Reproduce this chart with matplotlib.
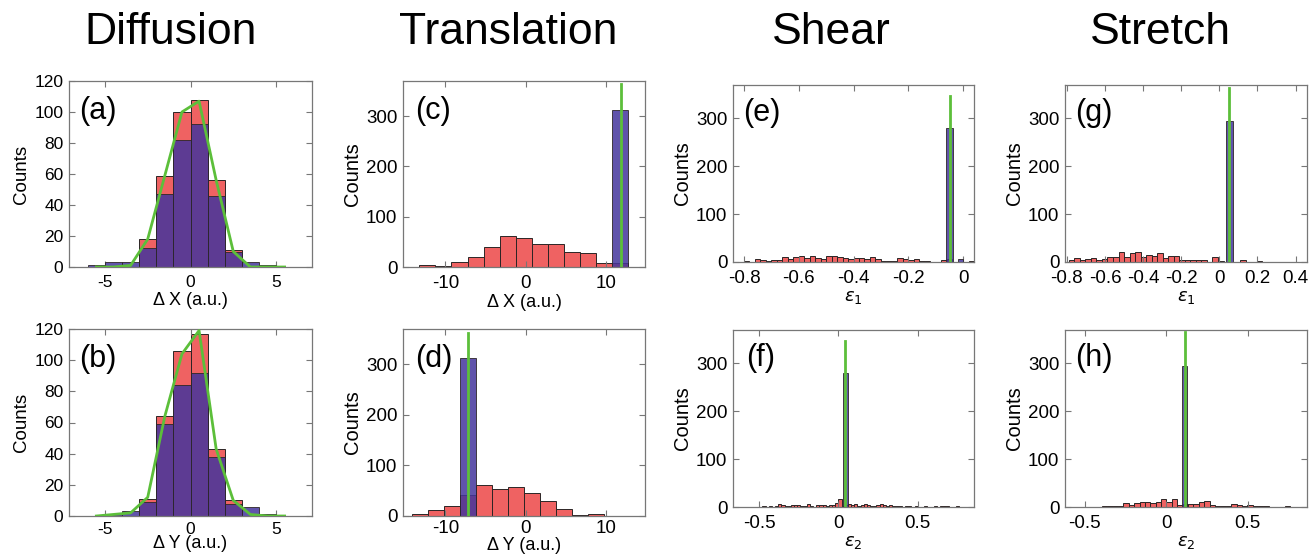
import numpy as np
import matplotlib
matplotlib.use("Agg")
import matplotlib.pyplot as plt

plt.rcParams['font.family'] = ['Liberation Sans', 'DejaVu Sans']
plt.rcParams['mathtext.fontset'] = 'dejavusans'

# ---- data ----
# (a) diffusion, delta X : unit bins starting at -6
dx_start, dx_width = -6.0, 1.0
dx_red = [0, 0, 0, 18, 59, 100, 108, 56, 11, 0, 0, 0]
dx_blue = [1, 3, 3, 12, 47, 82, 92, 46, 10, 3, 1, 0]
dx_green = [0, 0, 1, 18, 59, 100, 107, 56, 10, 0, 0, 0]

# (b) diffusion, delta Y
dy_start, dy_width = -6.0, 1.0
dy_red = [0, 1, 0, 11, 64, 106, 117, 43, 10, 0, 0, 0]
dy_blue = [0, 1, 3, 9, 59, 84, 92, 38, 8, 6, 1, 0]
dy_green = [0, 1, 2, 12, 64, 104, 119, 43, 10, 1, 0, 0]

# (c) translation, delta X
tx_start, tx_width = -13.25, 2.0
tx_red = [3, 1, 10, 20, 40, 62, 58, 46, 45, 30, 28, 8, 7]
tx_blue_left, tx_blue_width, tx_blue = [10.75], [2.0], [312]
tx_green_x, tx_green_top = 11.85, 364

# (d) translation, delta Y
ty_start, ty_width = -14.2, 2.0
ty_red = [3, 12, 20, 42, 62, 54, 58, 45, 30, 13, 1, 4]
ty_blue_left, ty_blue_width, ty_blue = [-8.2], [2.0], [312]
ty_green_x, ty_green_top = -7.18, 362

# (e) shear, eps1
se1_start, se1_width = -0.80, 0.02
se1_red = [3, 1, 6, 4, 3, 5, 4, 10, 7, 10, 12, 8, 13, 9, 7, 12, 12, 11, 9, 6, 9,
           8, 6, 10, 6, 2, 3, 3, 8, 6, 4, 7, 3, 2, 1, 1, 4, 6, 0, 0, 0, 3]
se1_blue_left, se1_blue_width, se1_blue = [-0.061, -0.02], [0.025, 0.02], [281, 6]
se1_green_x, se1_green_top = -0.047, 347

# (f) shear, eps2
se2_start, se2_width = -0.50, 0.02
se2_red = [1, 2, 1, 2, 1, 3, 6, 4, 2, 3, 5, 4, 5, 2, 3, 6, 2, 1, 4, 5, 4, 3,
           5, 4, 8, 16, 3, 5, 7, 4, 6, 3, 5, 6, 4, 3, 2, 4, 7, 5, 3, 4, 2, 3,
           2, 1, 3, 2, 1, 2, 1, 0, 2, 1, 0, 3, 1, 3, 2, 2, 0, 1, 2, 1, 0]
se2_blue_left, se2_blue_width, se2_blue = [0.029], [0.033], [281]
se2_green_x, se2_green_top = 0.044, 348

# (g) stretch, eps1
st1_start, st1_width = -0.79, 0.029
st1_red = [4, 8, 4, 7, 8, 5, 7, 11, 11, 21, 10, 19, 21, 11, 15, 12, 18, 9, 12, 12,
           5, 5, 5, 4, 4, 0, 11, 2, 0, 0, 0, 4, 0, 0, 2, 1, 0, 1, 1, 1, 0, 1, 0, 0]
st1_blue_left, st1_blue_width, st1_blue = [0.035], [0.035], [295]
st1_green_x, st1_green_top = 0.052, 364

# (h) stretch, eps2
st2_start, st2_width = -0.46, 0.033
st2_red = [1, 1, 2, 2, 3, 3, 8, 5, 8, 10, 11, 8, 11, 17, 10, 17, 5, 7, 7, 6,
           10, 12, 4, 3, 3, 2, 7, 5, 3, 4, 3, 2, 3, 1, 1, 1, 2, 1, 1, 1]
st2_blue_left, st2_blue_width, st2_blue = [0.095], [0.03], [295]
st2_green_x, st2_green_top = 0.115, 366

column_titles = ["Diffusion", "Translation", "Shear", "Stretch"]

RED = "#EF6262"
BLUE = "#44359C"
EDGE = "#2b2525"
GREEN = "#5CBF3A"
FRAME = "#777777"

fig = plt.figure(figsize=(13.09, 5.56), dpi=100)


def add_axes(px_left, px_top, px_right, px_bottom):
    W, H = 1309.0, 556.0
    return fig.add_axes([px_left / W, 1 - px_bottom / H,
                         (px_right - px_left) / W, (px_bottom - px_top) / H])


def bars(ax, start, width, red, blue_left=None, blue_width=None, blue=None):
    lefts = start + width * np.arange(len(red))
    ax.bar(lefts, red, width=width, align='edge', color=RED,
           edgecolor=EDGE, linewidth=0.7, zorder=1)
    if blue is not None:
        ax.bar(blue_left, blue, width=blue_width, align='edge', color=BLUE,
               alpha=0.85, edgecolor=EDGE, linewidth=0.7, zorder=2)


def style(ax, xlim, xticks, xticklabels, ylim, yticks, xlabel, tag,
          tagx=0.04, size=13.5, xpad=6, lpad=1):
    ax.set_xlim(xlim)
    ax.set_ylim(ylim)
    ax.set_xticks(xticks)
    ax.set_xticklabels(xticklabels)
    ax.set_yticks(yticks)
    ax.set_yticklabels([str(t) for t in yticks])
    ax.tick_params(direction='in', length=4, width=0.8, color=FRAME,
                   top=True, right=True, labelsize=size)
    ax.tick_params(axis='x', pad=xpad)
    ax.tick_params(axis='y', pad=4)
    for s in ax.spines.values():
        s.set_color(FRAME)
        s.set_linewidth(0.9)
    ax.set_ylabel("Counts", fontsize=size + 1, labelpad=3)
    ax.set_xlabel(xlabel, fontsize=13, labelpad=lpad)
    ax.text(tagx, 0.84, tag, transform=ax.transAxes, fontsize=22, va='center', ha='left')


# (a)
ax = add_axes(69, 81, 312, 267)
bars(ax, dx_start, dx_width, dx_red,
     dx_start + dx_width * np.arange(len(dx_blue)), dx_width, dx_blue)
ax.plot(dx_start + dx_width * (np.arange(len(dx_green)) + 0.5), dx_green,
        color=GREEN, lw=2, zorder=3)
style(ax, (-7.1, 7.1), [-5, 0, 5], ['-5', '0', '5'], (0, 120),
      [0, 20, 40, 60, 80, 100, 120], "Δ X (a.u.)", "(a)", size=12.5)

# (b)
ax = add_axes(69, 329, 312, 516)
bars(ax, dy_start, dy_width, dy_red,
     dy_start + dy_width * np.arange(len(dy_blue)), dy_width, dy_blue)
ax.plot(dy_start + dy_width * (np.arange(len(dy_green)) + 0.5), dy_green,
        color=GREEN, lw=2, zorder=3)
style(ax, (-7.1, 7.1), [-5, 0, 5], ['-5', '0', '5'], (0, 120),
      [0, 20, 40, 60, 80, 100, 120], "Δ Y (a.u.)", "(b)", size=12.5,
      xpad=4, lpad=-1)

# (c)
ax = add_axes(403, 81, 645, 267)
bars(ax, tx_start, tx_width, tx_red, tx_blue_left, tx_blue_width, tx_blue)
ax.plot([tx_green_x, tx_green_x], [0, tx_green_top], color=GREEN, lw=2, zorder=3)
style(ax, (-15.3, 14.9), [-10, 0, 10], ['-10', '0', '10'], (0, 370),
      [0, 100, 200, 300], "Δ X (a.u.)", "(c)", tagx=0.05)

# (d)
ax = add_axes(403, 329, 645, 516)
bars(ax, ty_start, ty_width, ty_red, ty_blue_left, ty_blue_width, ty_blue)
ax.plot([ty_green_x, ty_green_x], [0, ty_green_top], color=GREEN, lw=2, zorder=3)
style(ax, (-15.3, 14.9), [-10, 0, 10], ['-10', '0', '10'], (0, 370),
      [0, 100, 200, 300], "Δ Y (a.u.)", "(d)", tagx=0.05, xpad=3, lpad=0)

# (e)
ax = add_axes(733, 85, 974, 262)
bars(ax, se1_start, se1_width, se1_red, se1_blue_left, se1_blue_width, se1_blue)
ax.plot([se1_green_x, se1_green_x], [0, se1_green_top], color=GREEN, lw=2, zorder=3)
style(ax, (-0.84, 0.04), [-0.8, -0.6, -0.4, -0.2, 0],
      ['-0.8', '-0.6', '-0.4', '-0.2', '0'], (0, 370),
      [0, 100, 200, 300], r"$\epsilon_1$", "(e)")

# (f)
ax = add_axes(733, 330, 974, 507)
bars(ax, se2_start, se2_width, se2_red, se2_blue_left, se2_blue_width, se2_blue)
ax.plot([se2_green_x, se2_green_x], [0, se2_green_top], color=GREEN, lw=2, zorder=3)
style(ax, (-0.665, 0.855), [-0.5, 0, 0.5], ['-0.5', '0', '0.5'], (0, 370),
      [0, 100, 200, 300], r"$\epsilon_2$", "(f)", tagx=0.055)

# (g)
ax = add_axes(1065, 85, 1307, 262)
bars(ax, st1_start, st1_width, st1_red, st1_blue_left, st1_blue_width, st1_blue)
ax.plot([st1_green_x, st1_green_x], [0, st1_green_top], color=GREEN, lw=2, zorder=3)
style(ax, (-0.81, 0.46), [-0.8, -0.6, -0.4, -0.2, 0, 0.2, 0.4],
      ['-0.8', '-0.6', '-0.4', '-0.2', '0', '0.2', '0.4'], (0, 370),
      [0, 100, 200, 300], r"$\epsilon_1$", "(g)")

# (h)
ax = add_axes(1065, 330, 1307, 507)
bars(ax, st2_start, st2_width, st2_red, st2_blue_left, st2_blue_width, st2_blue)
ax.plot([st2_green_x, st2_green_x], [0, st2_green_top], color=GREEN, lw=2, zorder=3)
style(ax, (-0.62, 0.863), [-0.5, 0, 0.5], ['-0.5', '0', '0.5'], (0, 370),
      [0, 100, 200, 300], r"$\epsilon_2$", "(h)")

# column titles
for x_px, title in zip([171, 508, 831, 1160], column_titles):
    fig.text(x_px / 1309.0, 1 - 32 / 556.0, title, fontsize=32,
             ha='center', va='center')

fig.savefig("out.png", dpi=100)
